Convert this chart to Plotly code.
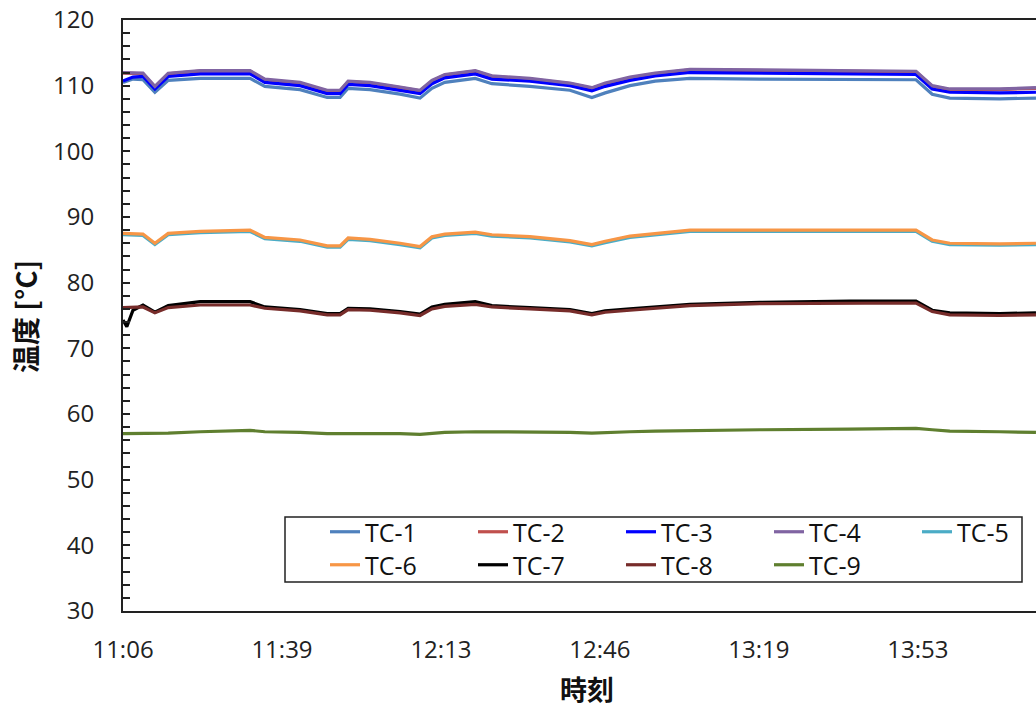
import plotly.graph_objects as go

# minutes after 11:06
T = [0, 0.8, 2.1, 4.2, 6.7, 9.5, 16.2, 26.7, 29.8, 37.2, 42.9, 45.6, 47.3, 51.9, 58.2, 62.4, 64.9, 67.6,
     74.0, 77.5, 85.5, 93.9, 98.5, 101.3, 106.5, 111.8, 119.1, 133.8, 152.7, 166.6, 170.0, 173.7, 184.2, 191.8]

TC1 = [110.5, 110.7, 111.0, 110.9, 109.0, 110.8, 111.1, 111.1, 109.9, 109.4, 108.2, 108.2, 109.6, 109.4, 108.7, 108.1, 109.6, 110.5,
       111.1, 110.3, 109.9, 109.3, 108.2, 108.9, 110.0, 110.7, 111.1, 111.0, 110.9, 110.9, 108.7, 108.1, 108.0, 108.1]
TC2 = [111.9, 111.9, 111.9, 111.8, 109.8, 111.8, 112.2, 112.2, 110.9, 110.4, 109.2, 109.2, 110.6, 110.4, 109.7, 109.2, 110.7, 111.6,
       112.2, 111.4, 111.0, 110.3, 109.6, 110.3, 111.2, 111.8, 112.4, 112.3, 112.2, 112.1, 109.9, 109.4, 109.4, 109.6]
TC3 = [110.7, 110.9, 111.3, 111.4, 109.5, 111.4, 111.8, 111.8, 110.5, 110.0, 108.8, 108.8, 110.2, 110.0, 109.3, 108.8, 110.3, 111.2,
       111.8, 111.0, 110.7, 110.0, 109.2, 109.9, 110.8, 111.5, 112.0, 111.9, 111.8, 111.7, 109.5, 109.0, 108.9, 109.0]
TC4 = [112.0, 112.0, 112.0, 111.9, 109.9, 111.9, 112.3, 112.3, 111.0, 110.5, 109.3, 109.3, 110.7, 110.5, 109.8, 109.3, 110.8, 111.7,
       112.3, 111.5, 111.1, 110.4, 109.7, 110.4, 111.3, 111.9, 112.5, 112.4, 112.3, 112.2, 110.0, 109.5, 109.5, 109.7]
TC5 = [87.3, 87.3, 87.3, 87.2, 85.8, 87.3, 87.6, 87.8, 86.7, 86.3, 85.4, 85.4, 86.6, 86.4, 85.8, 85.3, 86.8, 87.2,
       87.5, 87.1, 86.8, 86.2, 85.6, 86.1, 86.9, 87.3, 87.8, 87.8, 87.8, 87.8, 86.3, 85.8, 85.7, 85.8]
TC6 = [87.5, 87.5, 87.5, 87.4, 86.0, 87.5, 87.8, 88.0, 86.9, 86.5, 85.6, 85.6, 86.8, 86.6, 86.0, 85.5, 87.0, 87.4,
       87.7, 87.3, 87.0, 86.4, 85.8, 86.3, 87.1, 87.5, 88.0, 88.0, 88.0, 88.0, 86.5, 86.0, 85.9, 86.0]
TC7 = [74.3, 73.3, 75.8, 76.6, 75.5, 76.5, 77.1, 77.1, 76.3, 75.9, 75.3, 75.3, 76.1, 76.0, 75.6, 75.2, 76.3, 76.7,
       77.1, 76.5, 76.2, 75.9, 75.3, 75.7, 76.0, 76.3, 76.7, 77.0, 77.2, 77.2, 75.8, 75.4, 75.3, 75.4]
TC8 = [76.2, 76.2, 76.2, 76.3, 75.4, 76.2, 76.6, 76.6, 76.1, 75.7, 75.1, 75.1, 75.9, 75.8, 75.4, 75.0, 76.0, 76.4,
       76.7, 76.3, 76.0, 75.7, 75.1, 75.5, 75.8, 76.1, 76.5, 76.8, 76.9, 76.9, 75.6, 75.1, 75.0, 75.1]
TC9 = [57.0, 57.0, 57.0, 57.1, 57.0, 57.1, 57.3, 57.5, 57.3, 57.2, 57.0, 57.0, 57.1, 57.1, 57.0, 56.9, 57.1, 57.2,
       57.3, 57.3, 57.2, 57.2, 57.1, 57.2, 57.3, 57.4, 57.5, 57.6, 57.7, 57.8, 57.6, 57.4, 57.3, 57.2]

SERIES = [("TC-1", TC1, "#4F81BD"), ("TC-2", TC2, "#C0504D"), ("TC-3", TC3, "#0000FF"),
          ("TC-4", TC4, "#8064A2"), ("TC-5", TC5, "#4BACC6"), ("TC-6", TC6, "#F79646"),
          ("TC-7", TC7, "#000000"), ("TC-8", TC8, "#772C2A"), ("TC-9", TC9, "#5F7F2F")]

TICK_VALS = [0, 33.4, 66.8, 100.2, 133.6, 167.0]
TICK_TEXT = ["11:06", "11:39", "12:13", "12:46", "13:19", "13:53"]

W, H = 1036, 709
L, R, TOP, BOT = 123, 0, 20, 98
pw, ph = W - L - R, H - TOP - BOT

def px(x):
    return (x - L) / pw

def py(y):
    return (H - BOT - y) / ph

fig = go.Figure()
for i, (name, vals, col) in enumerate(SERIES):
    fig.add_trace(go.Scatter(x=T, y=vals, mode="lines", name=name,
                             legend=("legend" if i < 5 else "legend2"),
                             line=dict(color=col, width=3.2)))

legfont = dict(family="Open Sans", size=25, color="#111")
leg_common = dict(orientation="h", x=px(325), xanchor="left", yanchor="top",
                  entrywidth=103, entrywidthmode="pixels", traceorder="normal",
                  font=legfont, bgcolor="rgba(0,0,0,0)", borderwidth=0)

tickfont = dict(family="Open Sans", size=24, color="#222")
fig.update_layout(
    width=W, height=H,
    margin=dict(l=L, r=R, t=TOP, b=BOT, autoexpand=False),
    paper_bgcolor="white", plot_bgcolor="white",
    showlegend=True,
    legend=dict(y=py(509), **leg_common),
    legend2=dict(y=py(542), **leg_common),
    xaxis=dict(range=[0, (W - L) / 4.760], showgrid=False, zeroline=False,
               showline=True, linecolor="#222", linewidth=2, mirror=True,
               ticks="", tickvals=TICK_VALS, ticktext=TICK_TEXT,
               tickfont=tickfont, ticklabelstandoff=16),
    yaxis=dict(range=[30, 120], dtick=10, showgrid=False, zeroline=False,
               showline=True, linecolor="#222", linewidth=2, mirror=False,
               ticks="inside", ticklen=7, tickwidth=2, tickcolor="#222",
               minor=dict(dtick=2, ticks="inside", ticklen=7, tickwidth=2, tickcolor="#222"),
               tickfont=tickfont, ticklabelstandoff=22),
    shapes=[dict(type="rect", xref="paper", yref="paper",
                 x0=px(285), x1=px(1022), y0=py(582), y1=py(517),
                 line=dict(color="#222", width=1.5), fillcolor="rgba(0,0,0,0)")],
    annotations=[
        dict(text="<b>温度 [°C]</b>", textangle=-90, xref="paper", yref="paper",
             x=px(25), y=py(317), xanchor="center", yanchor="middle", showarrow=False,
             font=dict(family="Noto Sans CJK JP", size=28, color="#111")),
        dict(text="<b>時刻</b>", xref="paper", yref="paper",
             x=px(587), y=py(688), xanchor="center", yanchor="middle", showarrow=False,
             font=dict(family="Noto Sans CJK JP", size=27, color="#111")),
    ],
)

fig.write_html("out.html")
